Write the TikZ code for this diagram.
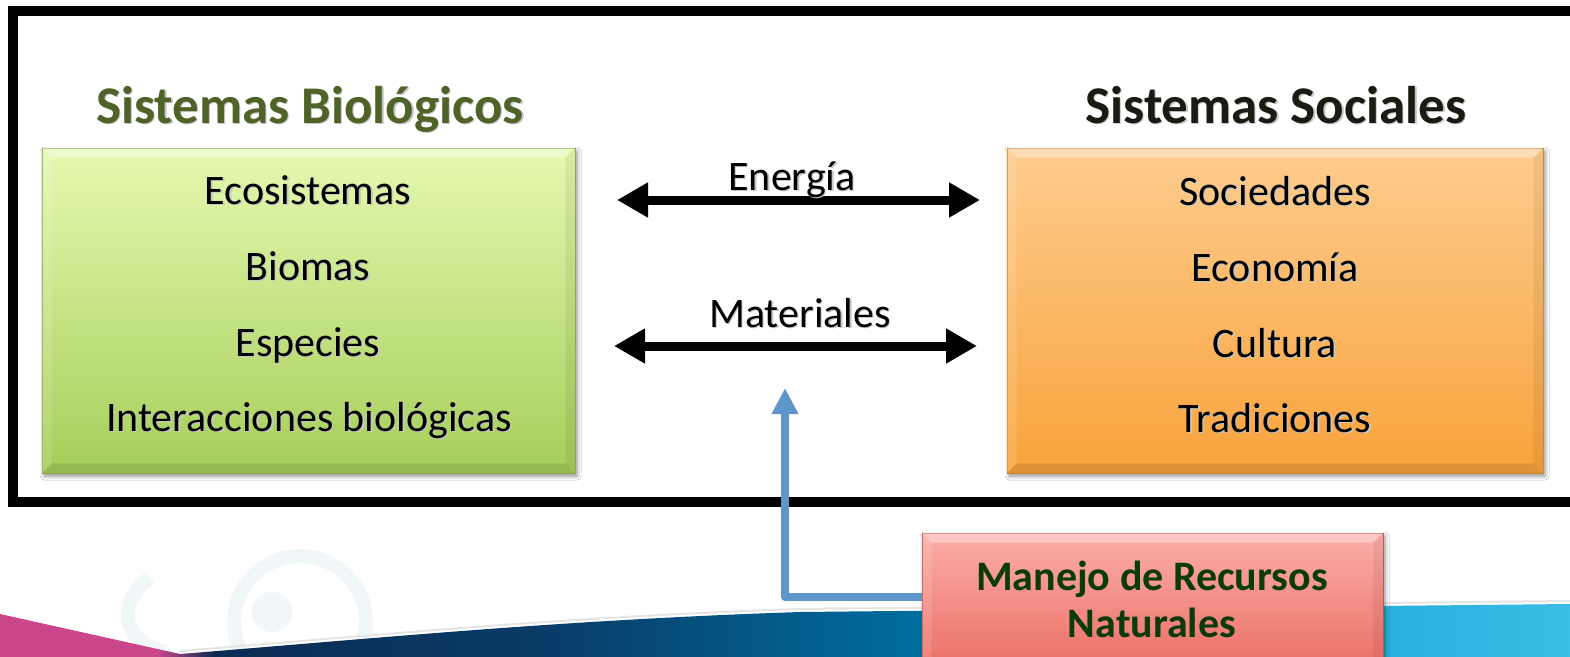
\documentclass[tikz,border=0pt]{standalone}
\usepackage{fontspec}
\setmainfont{Carlito}
\usetikzlibrary{arrows.meta,calc,shadows.blur}
\definecolor{gtop}{HTML}{E4F9B0}
\definecolor{gbot}{HTML}{A6CE5A}
\definecolor{otop}{HTML}{FDCC8E}
\definecolor{obot}{HTML}{F9A33B}
\definecolor{rtop}{HTML}{FCAEA9}
\definecolor{rbot}{HTML}{E8685D}
\definecolor{titgreen}{HTML}{4F6228}
\definecolor{titdark}{HTML}{1B1B14}
\definecolor{rtext}{HTML}{0B3A0B}
\definecolor{bluec}{HTML}{5F96CA}
\definecolor{bpink}{HTML}{CC468C}
\definecolor{bnavy}{HTML}{0B2C52}
\definecolor{bnavy2}{HTML}{093C68}
\definecolor{bmid}{HTML}{006A9C}
\definecolor{bcyan1}{HTML}{16A3D4}
\definecolor{bcyan2}{HTML}{3ABDE6}
\definecolor{swirlc}{HTML}{F1F6F8}
\pgfdeclarehorizontalshading{bandshade}{100bp}{color(0bp)=(bpink); color(25bp)=(bpink); color(30bp)=(bpink); color(31.8bp)=(bnavy); color(42.5bp)=(bnavy2); color(53.5bp)=(bmid); color(63bp)=(bcyan1); color(75bp)=(bcyan2); color(100bp)=(bcyan2)}
\newcommand\shd[1]{\makebox[0pt][l]{\kern1.3pt\raisebox{-1.8pt}{\textcolor{black!22}{#1}}}#1}
\newcommand\bevel[1]{%
  \fill[white,opacity=0.35] (#1.north west) -- (#1.north east) -- ($(#1.north east)+(-10,10)$) -- ($(#1.north west)+(10,10)$) -- cycle;
  \fill[white,opacity=0.12] (#1.north west) -- ($(#1.north west)+(10,10)$) -- ($(#1.south west)+(10,-10)$) -- (#1.south west) -- cycle;
  \fill[black,opacity=0.06] (#1.north east) -- ($(#1.north east)+(-10,10)$) -- ($(#1.south east)+(-10,-10)$) -- (#1.south east) -- cycle;
  \fill[black,opacity=0.10] (#1.south west) -- (#1.south east) -- ($(#1.south east)+(-10,-10)$) -- ($(#1.south west)+(10,-10)$) -- cycle;
}
\tikzset{
  item/.style={anchor=base, font=\fontsize{42}{50}\selectfont, inner sep=0pt},
  ttl/.style={anchor=base, font=\fontsize{53}{60}\selectfont\bfseries, inner sep=0pt},
  rtxt/.style={anchor=base, font=\fontsize{42}{50}\selectfont\bfseries, inner sep=0pt, text=rtext},
  box/.style={rectangle, inner sep=0pt, draw=#1, line width=0.6pt,
    blur shadow={shadow xshift=2pt, shadow yshift=-3pt, shadow blur radius=4pt, shadow opacity=45}},
  blackarrow/.style={line width=9pt, {Triangle[width=33pt,length=31pt]}-{Triangle[width=33pt,length=31pt]}},
  bluearrow/.style={line width=8pt, bluec, line join=round, -{Triangle[width=25pt,length=26pt]}},
  swirl/.style={swirlc, line width=14pt},
}
\begin{document}
\begin{tikzpicture}[x=1pt,y=-1pt]
\useasboundingbox (0,0) rectangle (1570,656);
\clip (0,0) rectangle (1570,656);
\fill[white] (0,0) rectangle (1570,656);
% faint swirl watermark
\draw[swirl] (300,622) circle[radius=66];
\fill[swirlc] (272,612) circle[radius=20];
\draw[swirl] (150,578) .. controls (118,600) and (118,640) .. (165,652);
% bottom band
\shade[shading=bandshade] (0,614) -- (180,654) .. controls (380,638) and (560,620) .. (800,612) -- (1570,604) -- (1570,660) -- (0,660) -- cycle;
\draw[black!10, line width=2pt] (180,651) .. controls (380,635) and (560,617) .. (800,609) -- (1570,601);
% partial title at the top
\node[anchor=base west, font=\fontsize{46.5}{50}\selectfont\bfseries, inner sep=0pt] (top) at (91.5,-8) {Ecología Social (SES\hspace{52pt})};
% frame
\draw[line width=10pt] (13,11) rectangle (1640,502);
% titles
\node[ttl, text=titgreen] (tbio) at (310,123) {\shd{Sistemas Biológicos}};
\node[ttl, text=titdark] (tsoc) at (1276,123) {\shd{Sistemas Sociales}};
% boxes
\node[box=gbot!85!black, top color=gtop, bottom color=gbot, minimum width=533pt, minimum height=325pt] (bio) at (308.5,310.5) {};
\bevel{bio}
\node[box=obot!85!black, top color=otop, bottom color=obot, minimum width=536pt, minimum height=325pt] (soc) at (1275,310.5) {};
\bevel{soc}
\node[item] (b1) at (308,204) {\shd{Ecosistemas}};
\node[item] (b2) at (308,280) {\shd{Biomas}};
\node[item] (b3) at (308,356) {\shd{Especies}};
\node[item] (b4) at (309,431) {\shd{Interacciones biológicas}};
\node[item] (s1) at (1275,205) {\shd{Sociedades}};
\node[item] (s2) at (1275,281) {\shd{Economía}};
\node[item] (s3) at (1275,357) {\shd{Cultura}};
\node[item] (s4) at (1275,432) {\shd{Tradiciones}};
% arrows
\coordinate (e1) at (617,200);
\coordinate (e2) at (980,200);
\coordinate (m1) at (614,346);
\coordinate (m2) at (977,346);
\draw[blackarrow] (e1) -- (e2);
\draw[blackarrow] (m1) -- (m2);
\node[item] (len) at (792,190) {\shd{Energía}};
\node[item] (lmat) at (800,327) {\shd{Materiales}};
% manejo box
\node[box=rbot!85!black, top color=rtop, bottom color=rbot, minimum width=461pt, minimum height=150pt] (rb) at (1152.5,608) {};
\bevel{rb}
\node[rtxt] (r1) at (1152,590) {Manejo de Recursos};
\node[rtxt] (r2) at (1152,637) {Naturales};
% blue arrow
\coordinate (bend) at (785,597);
\coordinate (tip) at (785,388);
\draw[bluearrow] (rb.west |- bend) -- (bend) -- (tip);
\end{tikzpicture}
\end{document}
